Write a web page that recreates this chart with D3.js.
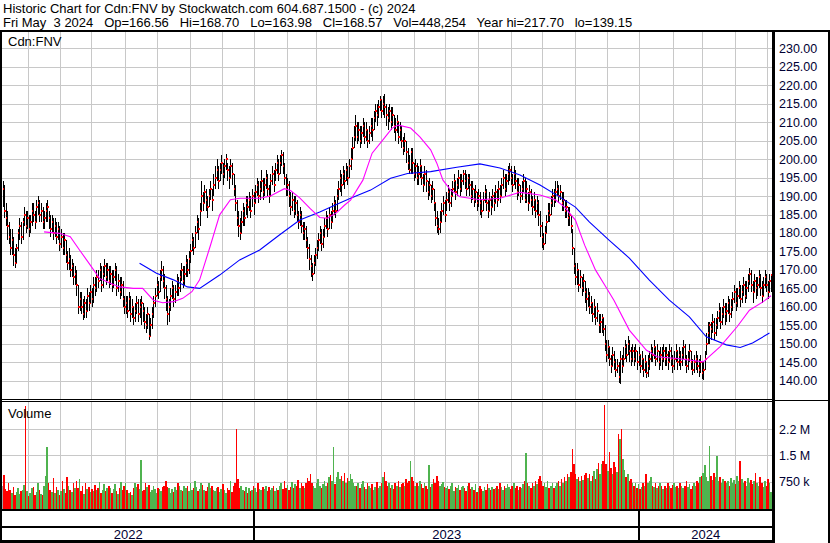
<!DOCTYPE html>
<html><head><meta charset="utf-8">
<script src="https://cdn.jsdelivr.net/npm/d3@7"></script>
<style>
html,body{margin:0;padding:0;background:#fff;}
svg{display:block;font-family:"Liberation Sans",Arial,sans-serif;}
text{white-space:pre;}
</style></head><body>
<svg id="c" width="830" height="543"></svg>
<script>
// ---------- DATA ----------
const headerLines = [
  "Historic Chart for Cdn:FNV by Stockwatch.com 604.687.1500 - (c) 2024",
  "Fri May  3 2024   Op=166.56   Hi=168.70   Lo=163.98   Cl=168.57   Vol=448,254   Year hi=217.70   lo=139.15"
];
const symbolLabel = "Cdn:FNV";
const volumeLabel = "Volume";

const closes = [
192,186,184,182,179,176,178,174,172,176,
180,182,179,183,185,182,184,181,183,186,
185,183,187,188,185,186,183,184,186,187,
184,181,183,180,182,179,181,177,179,176,
178,174,172,173,170,171,168,169,166,160,
162,160,158,161,159,163,161,164,162,166,
165,168,167,170,166,169,171,168,170,167,
169,166,168,170,165,167,164,166,162,160,
161,159,162,158,160,157,159,161,158,160,
161,159,156,155,158,152,155,158,161,163,
166,164,168,170,167,165,162,158,160,163,
165,162,164,167,165,168,170,167,169,172,
170,173,175,178,176,180,183,181,186,190,
188,191,189,187,190,192,189,193,195,197,
194,197,199,196,198,200,197,195,198,196,
192,188,184,182,180,183,186,184,188,187,
189,186,190,188,191,193,190,192,194,191,
193,195,192,190,194,196,193,197,199,196,
199,201,198,195,192,193,190,187,189,186,
188,185,183,185,182,180,181,178,176,173,
171,169,172,174,176,178,180,177,179,182,
184,181,185,183,186,188,186,190,192,195,
193,196,194,197,195,198,200,203,206,209,
206,208,205,207,209,206,208,205,207,209,
208,211,213,212,214,216,213,215,214,212,
211,213,210,212,209,208,210,206,208,205,
203,205,202,199,197,202,199,196,198,195,
196,198,195,193,196,194,191,193,190,192,
188,184,182,181,183,186,188,185,189,191,
188,190,192,194,191,193,195,192,194,196,
194,192,195,193,190,192,189,191,188,190,
188,186,189,191,188,186,189,187,190,188,
191,189,192,190,193,195,192,194,196,197,
195,193,196,194,191,193,190,192,194,189,
192,188,191,189,187,189,186,188,185,182,
179,177,180,183,186,185,188,190,189,191,
192,190,191,188,189,186,187,184,185,182,
176,171,168,170,166,168,165,167,164,162,
163,160,161,158,160,157,159,155,156,157,
154,150,147,149,146,144,147,145,143,144,
141,146,144,146,149,147,150,148,146,148,
146,148,145,147,144,146,143,145,142,144,
146,148,147,149,146,148,145,147,146,148,
146,147,145,148,146,144,146,148,145,147,
145,147,149,146,144,146,148,145,143,145,
146,144,143,145,142,143,146,150,153,155,
154,156,153,155,157,159,156,158,160,158,
159,161,158,160,162,164,161,163,165,162,
164,166,163,165,167,169,166,164,167,165,
166,168,165,163,166,168,166,164,167,168.57
];
const highs = [
194,193,188,186,183,181,181,179,176,177,
181,184,183,184,187,186,186,185,185,188,
188,186,189,190,189,188,187,186,188,189,
186,185,185,184,184,183,183,182,181,180,
180,178,175,176,174,173,172,171,170,166,
164,164,162,163,162,165,164,166,165,168,
168,170,170,172,171,171,173,172,172,171,
171,170,170,172,171,169,168,168,167,163,
163,163,164,163,162,160,161,163,162,162,
163,161,160,158,160,158,157,160,163,165,
168,167,170,172.5,171,169,166,163,162,165,
167,166,166,169,168,170,172,171,171,174,
173,175,177,180,179,182,185,184,188,194,
191,193,192,190,192,194,192,196,198,200,
198,199,201,199,200,201.5,199,198,200,199,
196,193,189,186,184,186,188,187,190,190,
191,190,192,191,193,195,194,194,197,195,
195,197,196,193,196,198,197,199,201,200,
201,202.5,202,199,196,195,194,191,191,190,
190,189,186,187,186,183,183,182,179,177,
174,172,174,176,178,180,182,181,181,184,
186,185,187,186,188,190,189,192,194,197,
196,198,197,199,198,200,203,206,209,212,
210,210,209,209,211,210,210,208,209,211,
211,213,215,215,216,217,216,217,217.7,215,
214,215,214,214,212,211,212,210,210,209,
206,207,205,203,201,203,203,199,200,199,
198,200,198,196,198,197,194,195,193,194,
192,188,186,184,186,188,190,189,191,193,
192,192,194,196,194,195,197,196,196,197,
197,196,196,196,194,194,192,193,191,192,
191,189,191,193,192,189,191,190,192,191,
193,192,194,193,195,197,196,196,198,199,
198,196,198,197,195,195,193,194,196,195,
194,191,193,192,190,191,189,190,189,186,
183,180,182,185,188,188,190,192,192,194,
194,193,193,191,191,189,189,187,187,185,
181,176,172,172,170,170,168,169,167,165,
165,164,163,161,162,160,161,158,158,158,
157,155,151,151,149,147,149,148,146,146,
145,148,147,149,151,150,152,151,149,150,
149,150,148,149,147,148,146,147,145,147,
148,150,149,151,149,150,148,149,149,150,
149,149,148,150,149,147,148,150,148,149,
148,149,151,150,147,148,150,148,146,147,
148,147,146,147,145,145,148,153,156,156,
156,158,157,157,159,161,160,160,162,161,
161,163,162,162,164,166,165,165,167,166,
166,168,167,167,169,170.5,170,167,169,168,
168,170,169,167,168,170,169,167,169,168.7
];
const lows = [
187,184,182,178,177,174,174,171,170.5,172,
175,178,177,178,182,180,181,179,180,182,
183,181,183,185,183,183,181,181,183,183,
181,179,180,178,179,177,178,175,176,174,
174,172,170,170,168,168,166,166,163,158,
159,158,156.5,157,157,159,159,161,160,161,
163,164,165,167,164,165,168,166,167,165,
166,164,165,167,163,164,162,163,160,158,
158,157,159,156,157,155,156,158,156,157,
155,156,154,153,154,151,152,154,157,160,
163,162,164,167,165,162,159,155,156,159,
162,160,161,163,163,164,167,165,166,168,
168,169,172,175,174,176,180,178,182,186,
186,188,186,184,187,189,186,190,192,194,
192,194,196,193,195,197,194,192,195,193,
190,186,182,179,178,180,182,182,185,184,
186,184,187,185,188,190,188,189,191,189,
190,192,190,188,190,193,191,194,196,194,
196,198,196,193,190,190,187,185,186,184,
185,183,181,182,180,178,178,176,173,170,
168,167,169,171,173,175,177,175,176,179,
181,179,181,181,183,185,184,186,189,191,
190,193,192,194,193,195,197,200,203,205,
204,205,203,204,206,204,205,203,204,206,
205,208,210,209,211,213,211,212,211,209,
208,210,208,209,207,205,207,204,205,203,
201,202,199,197,196,196,196,194,195,193,
193,195,193,191,193,191,189,190,188,189,
186,182,180,179.5,180,183,185,183,186,188,
186,187,190,191,189,190,192,190,191,193,
192,190,192,190,188,189,187,188,186,187,
185,184,186,188,186,184,186,185,187,186,
188,187,189,188,190,192,190,191,193,194,
193,191,193,192,189,190,188,189,191,188,
188,186,188,187,185,186,184,185,182,179,
176,175.5,177,180,183,183,185,187,187,188,
190,188,189,186,186,184,184,182,182,180,
174,169,166,166,164,165,163,164,161,159,
160,158,158,156,157,155,156,153,153,153,
152,148,145,146,144,142,144,143,141,142,
139.5,139.15,142,144,146,145,147,145,144,145,
144,145,143,144,142,143,141,142,140.7,141,
143,145,145,146,144,145,143,144,143,145,
144,144,143,145,144,142,143,145,143,144,
143,144,146,144,142,143,145,143,141.5,142,
143,142,141,142,140.5,140.2,143,147,150,150,
151,153,151,152,154,156,154,155,157,155,
156,158,156,157,159,161,159,160,162,160,
161,163,161,162,164,166,164,161,164,162,
163,165,163,161,163,165,164,162,164,163.98
];
// daily volume, thousands of shares
const volumes = [
620,950,540,480,700,520,430,610,380,450,
560,400,470,520,650,2900,480,330,420,560,
600,380,450,700,520,410,380,640,900,1740,
720,510,460,850,420,600,520,370,480,760,
540,420,880,640,500,460,720,560,780,560,
820,480,640,390,700,540,610,450,530,480,
650,500,560,740,430,510,690,470,560,620,
580,420,530,690,470,410,560,730,520,640,
720,500,430,460,380,580,720,610,690,540,
1360,480,520,700,600,650,460,520,640,540,
440,580,530,480,610,620,760,600,570,420,
530,450,600,520,700,640,520,470,640,560,
620,480,700,520,560,760,600,490,550,700,
660,520,480,590,700,560,640,520,470,560,
600,460,540,680,500,420,580,520,760,460,
620,700,2250,820,560,640,520,480,600,420,
560,480,520,620,580,460,700,540,520,610,
540,620,480,600,520,560,640,470,580,500,
620,700,540,760,580,660,520,600,740,560,
680,620,800,560,720,640,560,700,860,760,
980,720,640,580,700,820,640,560,680,760,
620,700,880,940,760,1740,680,880,1020,840,
920,760,1000,720,860,780,960,820,700,640,
620,720,560,680,760,600,540,700,620,580,
680,520,600,740,560,640,700,880,1020,760,
640,720,580,660,540,700,620,760,600,680,
720,640,820,700,760,1330,880,760,640,700,
620,760,680,560,700,620,540,1230,600,680,
820,700,900,760,620,680,740,600,560,620,
540,620,700,480,600,560,660,520,600,640,
560,480,620,700,540,600,520,680,460,560,
620,540,480,600,520,680,560,500,600,540,
580,620,540,700,600,520,640,560,680,600,
540,620,700,580,640,520,600,560,680,760,
1580,720,640,580,700,620,760,680,820,900,
780,640,700,600,760,560,620,700,580,640,
700,760,640,820,700,880,760,980,880,1020,
1670,1240,960,820,880,760,920,800,940,1000,
860,980,760,900,1040,840,1100,1280,980,1240,
1330,2940,1240,1060,1600,1140,980,1300,1180,1020,
2100,1970,2250,1400,1080,880,960,760,820,700,
640,720,580,680,540,600,720,640,960,700,
760,880,640,600,720,560,640,700,620,540,
620,580,700,640,560,660,720,600,640,560,
700,620,580,640,760,600,680,540,620,700,
640,760,700,880,920,1000,1230,880,780,1770,
900,800,1000,880,1480,760,880,700,820,760,
700,780,640,860,720,800,680,900,760,1330,
820,700,760,640,860,720,800,680,760,1000,
720,640,880,700,600,760,640,820,700,448
];
// moving averages: [trading-day index, value]
const maFast = [[27,180.3],[37,179.9],[44,179],[50,175.4],[57,171.3],[63,167.7],[70,166.4],[76,165.4],[85,165],[91,165],[98,161.8],[104,161.1],[111,161.4],[117,162.3],[123,164.1],[128,167.3],[135,176.6],[141,184.9],[148,189],[154,189.4],[167,189.4],[174,190],[183,192],[187,191.5],[193,189.5],[200,186.5],[206,184.2],[211,184],[217,185.5],[222,187.5],[226,188.9],[234,194.3],[240,201.6],[247,205.2],[253,208.4],[257,209.2],[265,208.4],[271,206],[278,202.5],[282,198.9],[286,194.3],[291,191.6],[297,189.8],[310,189],[323,189.4],[336,191],[349,190.3],[359,189],[365,187],[372,183.5],[378,176.7],[385,170],[391,165.9],[397,161.8],[407,153.7],[418,148.3],[425,146.5],[438,146],[455,145.1],[466,149.2],[477,154.6],[485,159.1],[494,161.4],[499,163]];
const maSlow = [[89,171.8],[100,169.1],[111,167.3],[120,165.4],[128,165],[141,168.6],[154,172.7],[167,175.4],[180,179.5],[193,183.5],[206,185.7],[219,188.1],[226,189.4],[239,191.6],[252,194.8],[263,196.1],[278,196.6],[295,197.8],[310,198.7],[323,197.6],[336,195.7],[349,193],[362,189.7],[372,187],[381,183],[394,178],[407,173.2],[420,167.2],[433,161.8],[446,157.3],[457,151.9],[470,149.7],[479,149],[487,150.2],[498,152.9]];

// first trading day index of each month (gridlines) and of each year
const monthStarts = [17,38,58,80,101,122,143,164,185,204,225,246,268,288,309,331,351,372,393,414,436,455,476,497];
const yearStarts = [164,414];
const yearLabels = ["2022","2023","2024"];
const priceTicks = [140,145,150,155,160,165,170,175,180,185,190,195,200,205,210,215,220,225,230];
const volTicks = [750000,1500000,2250000];
const volTickLabels = ["750 k","1.5 M","2.2 M"];

// ---------- DRAW ----------
const W = 830, H = 543;
const svg = d3.select("#c");
const N = closes.length;
const PL = 2, PR = 772;
const priceTop = 32, priceBot = 399, volTop = 402, volBot = 509;

const x = d3.scaleLinear().domain([0, N - 1]).range([2.5, 771]);
const yP = d3.scaleLinear().domain([140, 230]).range([380.7, 48.3]);
const yV = d3.scaleLinear().domain([0, 2250000]).range([508, 429]);

svg.append("rect").attr("width", W).attr("height", H).attr("fill", "#fff");

const defs = svg.append("defs");
defs.append("clipPath").attr("id", "cp").append("rect")
  .attr("x", PL).attr("y", priceTop).attr("width", PR - PL).attr("height", priceBot - priceTop);
defs.append("clipPath").attr("id", "cv").append("rect")
  .attr("x", PL).attr("y", volTop).attr("width", PR - PL).attr("height", volBot - volTop);

// grid
const grid = svg.append("g").attr("stroke", "#c8c8c8").attr("stroke-width", 1).attr("shape-rendering", "crispEdges");
priceTicks.forEach(p => {
  const yy = Math.round(yP(p)) + 0.5;
  grid.append("line").attr("x1", PL).attr("x2", PR).attr("y1", yy).attr("y2", yy);
});
volTicks.forEach(v => {
  const yy = Math.round(yV(v)) + 0.5;
  grid.append("line").attr("x1", PL).attr("x2", PR).attr("y1", yy).attr("y2", yy);
});
monthStarts.forEach(m => {
  const xx = Math.round(x(m - 0.5)) + 0.5;
  grid.append("line").attr("x1", xx).attr("x2", xx).attr("y1", priceTop).attr("y2", priceBot);
  grid.append("line").attr("x1", xx).attr("x2", xx).attr("y1", volTop).attr("y2", volBot);
});

// labels in panels
svg.append("text").attr("x", 8).attr("y", 46).attr("font-size", 13).attr("fill", "#000").text(symbolLabel);

// price bars (high-low in black, close marked in red)
const bars = svg.append("g").attr("clip-path", "url(#cp)").attr("shape-rendering", "crispEdges");
for (let i = 0; i < N; i++) {
  const cx = Math.round(x(i));
  const yh = yP(highs[i]), yl = yP(lows[i]);
  bars.append("rect").attr("x", cx).attr("y", Math.round(yh)).attr("width", 1)
    .attr("height", Math.max(1, Math.round(yl) - Math.round(yh))).attr("fill", "#000");
  bars.append("rect").attr("x", cx).attr("y", Math.round(yP(closes[i])) - 1).attr("width", 2).attr("height", 2).attr("fill", "#ff0000");
}

// moving averages
const line = d3.line().x(d => x(d[0])).y(d => yP(d[1]));
const mas = svg.append("g").attr("clip-path", "url(#cp)").attr("fill", "none").attr("stroke-width", 1.1);
mas.append("path").datum(maSlow).attr("d", line).attr("stroke", "#0000ff");
mas.append("path").datum(maFast).attr("d", line).attr("stroke", "#ff00ff");

// volume bars
const vg = svg.append("g").attr("clip-path", "url(#cv)").attr("shape-rendering", "crispEdges");
for (let i = 0; i < N; i++) {
  const v = volumes[i] * 1000;
  const prev = i > 0 ? closes[i - 1] : closes[i];
  const col = closes[i] > prev ? "#4fb34f" : (closes[i] < prev ? "#ff0000" : "#a0a0a0");
  const y0 = yV(v);
  vg.append("rect").attr("x", x(i) - 0.77).attr("width", 1.54).attr("y", y0)
    .attr("height", volBot - y0).attr("fill", col);
}
svg.append("text").attr("x", 8).attr("y", 418).attr("font-size", 13).attr("fill", "#000").text(volumeLabel);

// frame lines
const frame = svg.append("g").attr("fill", "#000").attr("shape-rendering", "crispEdges");
frame.append("rect").attr("x", 0).attr("y", 30).attr("width", W).attr("height", 2);
frame.append("rect").attr("x", 0).attr("y", 30).attr("width", 2).attr("height", H - 30);
frame.append("rect").attr("x", 772).attr("y", 30).attr("width", 3).attr("height", H - 30);
frame.append("rect").attr("x", 828).attr("y", 30).attr("width", 2).attr("height", H - 30);
frame.append("rect").attr("x", 0).attr("y", 399).attr("width", 773).attr("height", 1);
frame.append("rect").attr("x", 0).attr("y", 401).attr("width", 773).attr("height", 1);
frame.append("rect").attr("x", 773).attr("y", 400).attr("width", 56).attr("height", 1);
frame.append("rect").attr("x", 0).attr("y", 509).attr("width", 773).attr("height", 2);
frame.append("rect").attr("x", 0).attr("y", 526).attr("width", 773).attr("height", 2);
frame.append("rect").attr("x", 0).attr("y", 540).attr("width", 773).attr("height", 3);
yearStarts.forEach(s => {
  frame.append("rect").attr("x", Math.round(x(s - 0.5)) - 1).attr("y", 510).attr("width", 2).attr("height", 31);
});

// year labels
const bounds = [PL].concat(yearStarts.map(s => x(s - 0.5)), [PR]);
yearLabels.forEach((t, k) => {
  svg.append("text").attr("x", (bounds[k] + bounds[k + 1]) / 2).attr("y", 539)
    .attr("text-anchor", "middle").attr("font-size", 13).attr("fill", "#000033").text(t);
});

// right axes
const axP = svg.append("g").attr("transform", "translate(779,0)")
  .call(d3.axisRight(yP).tickValues(priceTicks).tickFormat(d3.format(".2f")).tickSize(0).tickPadding(0));
axP.select(".domain").remove();
axP.selectAll("text").attr("font-size", 12.5).attr("font-family", "'Liberation Sans',Arial,sans-serif").attr("fill", "#000033");

const axV = svg.append("g").attr("transform", "translate(779,0)")
  .call(d3.axisRight(yV).tickValues(volTicks).tickFormat((d, i) => volTickLabels[i]).tickSize(0).tickPadding(0));
axV.select(".domain").remove();
axV.selectAll("text").attr("font-size", 12.5).attr("font-family", "'Liberation Sans',Arial,sans-serif").attr("fill", "#000033");

// header
headerLines.forEach((t, k) => {
  svg.append("text").attr("x", 3).attr("y", 13 + k * 14).attr("font-size", 13).attr("fill", "#000").text(t);
});
</script>
</body></html>
